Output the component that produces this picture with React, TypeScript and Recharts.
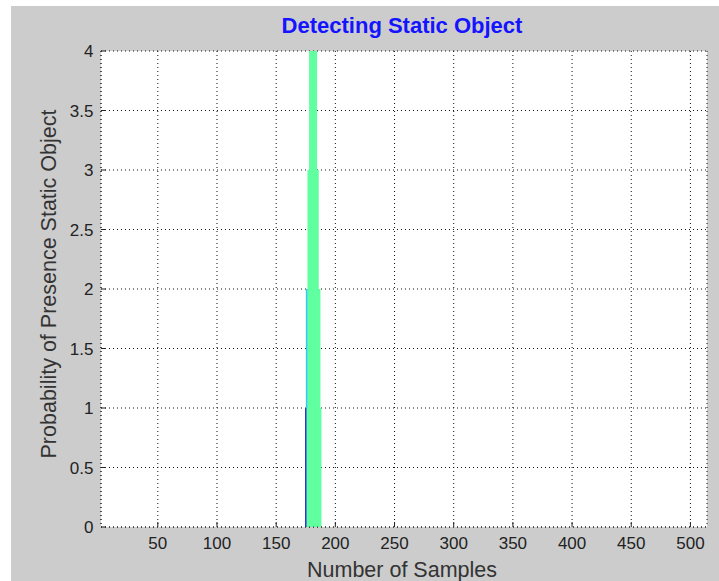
import React from 'react';
import { LineChart, Line, XAxis, YAxis, CartesianGrid } from 'recharts';

// axis setup
const xDomain = [2, 514];
const xTicks = [50, 100, 150, 200, 250, 300, 350, 400, 450, 500];
const yDomain = [0, 4];
const yTicks = [0, 0.5, 1, 1.5, 2, 2.5, 3, 3.5, 4];

// vertical segments drawn at the detection spot (sample index, from, to)
const segX = [181.6, 181.6, 181.2, 181.2, 175.0, 175.7];
const segFrom = [0, 1, 2, 3, 0, 1];
const segTo = [1, 2, 3, 4, 1, 2];

// look of each segment (same order)
const segStyle = [
  { color: '#60ff9f', width: 15.7 },
  { color: '#60ff9f', width: 13.7 },
  { color: '#60ff9f', width: 11.3 },
  { color: '#60ff9f', width: 8 },
  { color: '#2b35d8', width: 1.5 },
  { color: '#3cc6ff', width: 1.5 },
];

const segments = segX.map((x, i) => [
  { x, y: segFrom[i] },
  { x, y: segTo[i] },
]);

const FONT = '"Liberation Sans", Arial, sans-serif';
const INK = '#222';

const BottomTick = (props: any) => {
  const { x, y, payload } = props;
  return (
    <g>
      <line x1={x} y1={y} x2={x} y2={y - 5} stroke={INK} strokeWidth={1} />
      <text x={x} y={y + 22} textAnchor="middle" fontSize={17} fontFamily={FONT} fill={INK}>
        {payload.value}
      </text>
    </g>
  );
};

const LeftTick = (props: any) => {
  const { x, y, payload } = props;
  return (
    <g>
      <line x1={x} y1={y} x2={x + 5} y2={y} stroke={INK} strokeWidth={1} />
      <text x={x - 7.5} y={y + 6} textAnchor="end" fontSize={17} fontFamily={FONT} fill={INK}>
        {payload.value}
      </text>
    </g>
  );
};

const TopTick = (props: any) => {
  const { x, y } = props;
  return <line x1={x} y1={y} x2={x} y2={y + 5} stroke={INK} strokeWidth={1} />;
};

const RightTick = (props: any) => {
  const { x, y } = props;
  return <line x1={x} y1={y} x2={x - 5} y2={y} stroke={INK} strokeWidth={1} />;
};

export default function App() {
  return (
    <div style={{ position: 'absolute', left: 0, top: 0, width: 719, height: 581, background: '#fff' }}>
      <div style={{ position: 'absolute', left: 11, top: 6, width: 708, height: 575, background: '#cccccc' }}>
        <LineChart
          width={708}
          height={575}
          margin={{ top: 45, right: 12, bottom: 0, left: 0 }}
        >
          <CartesianGrid
            stroke="#111"
            strokeDasharray="1 3"
            fill="#fff"
            fillOpacity={1}
            horizontal
            vertical
          />
          <XAxis
            dataKey="x"
            type="number"
            domain={xDomain}
            ticks={xTicks}
            allowDataOverflow
            height={54}
            tickSize={0}
            tickMargin={0}
            tickLine={false}
            axisLine={{ stroke: INK, strokeDasharray: '1 3' }}
            tick={<BottomTick />}
            interval={0}
          />
          <XAxis
            xAxisId="top"
            orientation="top"
            type="number"
            domain={xDomain}
            ticks={xTicks}
            allowDataOverflow
            height={0}
            tickSize={0}
            tickMargin={0}
            tickLine={false}
            axisLine={{ stroke: INK, strokeWidth: 1.5 }}
            tick={<TopTick />}
            interval={0}
          />
          <YAxis
            type="number"
            domain={yDomain}
            ticks={yTicks}
            allowDataOverflow
            width={90}
            tickSize={0}
            tickMargin={0}
            tickLine={false}
            axisLine={{ stroke: INK, strokeDasharray: '1 3' }}
            tick={<LeftTick />}
            interval={0}
          />
          <YAxis
            yAxisId="right"
            orientation="right"
            type="number"
            domain={yDomain}
            ticks={yTicks}
            allowDataOverflow
            width={0}
            tickSize={0}
            tickMargin={0}
            tickLine={false}
            axisLine={{ stroke: INK, strokeWidth: 1.5 }}
            tick={<RightTick />}
            interval={0}
          />
          {segments.map((data, i) => (
            <Line
              key={i}
              data={data}
              dataKey="y"
              stroke={segStyle[i].color}
              strokeWidth={segStyle[i].width}
              dot={false}
              activeDot={false}
              isAnimationActive={false}
              type="linear"
            />
          ))}
        </LineChart>
      </div>
      <svg
        width={719}
        height={581}
        style={{ position: 'absolute', left: 0, top: 0, pointerEvents: 'none' }}
      >
        <text x={402} y={33} textAnchor="middle" fontSize={22} fontWeight="bold" fontFamily={FONT} fill="#1414ff">
          Detecting Static Object
        </text>
        <text x={402} y={576.5} textAnchor="middle" fontSize={21.5} fontFamily={FONT} fill="#333">
          Number of Samples
        </text>
        <text
          transform="translate(55.5,284) rotate(-90)"
          textAnchor="middle"
          fontSize={21.5}
          fontFamily={FONT}
          fill="#333"
        >
          Probability of Presence Static Object
        </text>
      </svg>
    </div>
  );
}
